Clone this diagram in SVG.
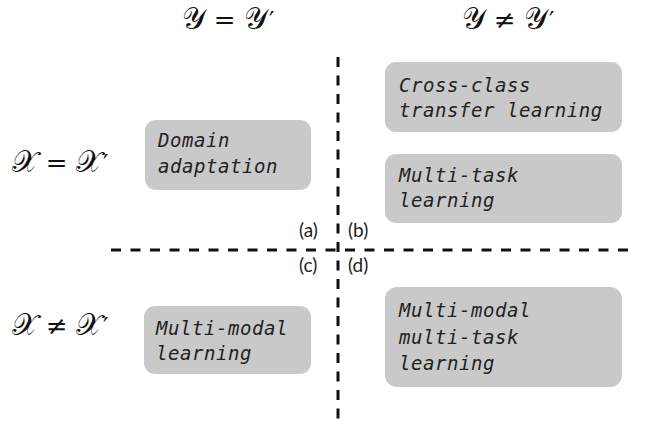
<svg xmlns="http://www.w3.org/2000/svg" width="646" height="430" viewBox="0 0 646 430">
<style>
.box{fill:#c9c9c9;stroke:none}
.bt{font-family:"DejaVu Sans Mono","Liberation Mono",monospace;font-style:italic;font-size:19px;letter-spacing:0.55px;fill:#222}
.math{font-family:"DejaVu Serif","Liberation Serif",serif;font-size:30px;fill:#111;text-anchor:middle}
.rel{font-family:"DejaVu Serif","Liberation Serif",serif;font-size:26px}
.pr{font-family:"DejaVu Sans","Liberation Sans",sans-serif;font-size:24px}
.lab{font-family:"Lato","Liberation Sans",sans-serif;font-size:19px;fill:#222}
.dash{stroke:#111;stroke-width:3;fill:none}
</style>
<rect width="646" height="430" fill="#fff"/>
<g id="connectors">
<line class="dash" x1="111" y1="250" x2="636" y2="250" stroke-dasharray="10 9.5"/>
<line class="dash" x1="338" y1="57" x2="338" y2="426" stroke-dasharray="10 8.5"/>
</g>
<g id="header-y-eq"><text class="math" x="228" y="29">𝒴<tspan class="rel"> = </tspan>𝒴<tspan class="pr" dx="1">′</tspan></text></g>
<g id="header-y-neq"><text class="math" x="508" y="29">𝒴<tspan class="rel"> ≠ </tspan>𝒴<tspan class="pr" dx="1">′</tspan></text></g>
<g id="header-x-eq"><text class="math" x="60" y="172">𝒳<tspan class="rel"> = </tspan>𝒳<tspan class="pr" dx="1">′</tspan></text></g>
<g id="header-x-neq"><text class="math" x="60" y="335">𝒳<tspan class="rel"> ≠ </tspan>𝒳<tspan class="pr" dx="1">′</tspan></text></g>
<g id="label-a"><text class="lab" x="299" y="237">(a)</text></g>
<g id="label-b"><text class="lab" x="348" y="237">(b)</text></g>
<g id="label-c"><text class="lab" x="299" y="272">(c)</text></g>
<g id="label-d"><text class="lab" x="348" y="272">(d)</text></g>
<g id="domain-adaptation">
<rect class="box" x="145" y="120" width="166" height="70" rx="11"/>
<text class="bt" x="158" y="147">Domain</text>
<text class="bt" x="158" y="173">adaptation</text>
</g>
<g id="cross-class">
<rect class="box" x="385" y="62" width="237" height="70" rx="11"/>
<text class="bt" x="399" y="92">Cross-class</text>
<text class="bt" x="399" y="117">transfer learning</text>
</g>
<g id="multi-task">
<rect class="box" x="385" y="154" width="237" height="69" rx="11"/>
<text class="bt" x="399" y="182">Multi-task</text>
<text class="bt" x="399" y="207">learning</text>
</g>
<g id="multi-modal">
<rect class="box" x="144" y="306" width="167" height="68" rx="11"/>
<text class="bt" x="156" y="335">Multi-modal</text>
<text class="bt" x="156" y="360">learning</text>
</g>
<g id="multi-modal-multi-task">
<rect class="box" x="385" y="287" width="237" height="100" rx="12"/>
<text class="bt" x="399" y="317">Multi-modal</text>
<text class="bt" x="399" y="344">multi-task</text>
<text class="bt" x="399" y="370">learning</text>
</g>
</svg>
